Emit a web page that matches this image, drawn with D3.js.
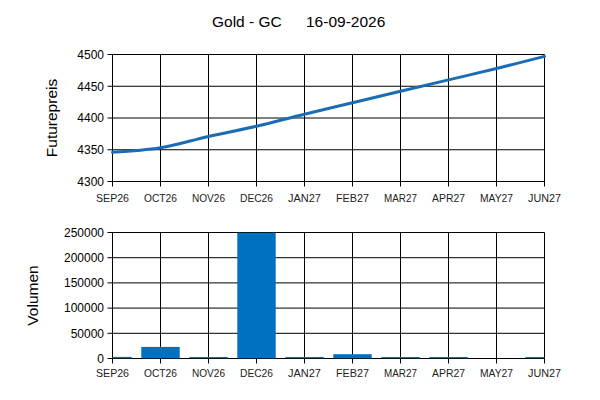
<!DOCTYPE html>
<html>
<head>
<meta charset="utf-8">
<script src="https://cdn.jsdelivr.net/npm/d3@7"></script>
<style>
  html, body { margin: 0; padding: 0; background: #fff; }
  svg { display: block; font-family: Arial, "Liberation Sans", sans-serif; }
</style>
</head>
<body>
<svg id="chart" width="600" height="400"></svg>
<script>
const months = ["SEP26","OCT26","NOV26","DEC26","JAN27","FEB27","MAR27","APR27","MAY27","JUN27"];
const prices = [4346, 4353, 4371, 4387, 4406, 4424, 4442, 4460, 4478, 4497];
const volumes = [3200, 23000, 3000, 250000, 3000, 8500, 3000, 3000, 0, 3000];
const priceTicks = [4300, 4350, 4400, 4450, 4500];
const volumeTicks = [0, 50000, 100000, 150000, 200000, 250000];
const titleLeft = "Gold - GC";
const titleRight = "16-09-2026";
const priceLabel = "Futurepreis";
const volumeLabel = "Volumen";

const svg = d3.select("#chart");
const left = 112.5, right = 544.5;
const lineColor = "#1a6db5", barColor = "#0070c0";

const x = d3.scalePoint().domain(months).range([left, right]);
const step = x.step();

// Title
svg.append("text").attr("x", 212).attr("y", 27).attr("font-size", 15.5).attr("fill", "#000").text(titleLeft);
svg.append("text").attr("x", 306).attr("y", 27).attr("font-size", 15.5).attr("fill", "#000").text(titleRight);

function panel(top, bottom, domain, ticks, fmt, xLabelOffset, label, labelX) {
  const y = d3.scaleLinear().domain(domain).range([bottom, top]);
  const g = svg.append("g");
  g.selectAll("line.hg").data(ticks).join("line")
    .attr("x1", left - 5).attr("x2", right)
    .attr("y1", d => y(d)).attr("y2", d => y(d))
    .attr("stroke", "#000").attr("stroke-width", 1);
  g.selectAll("line.vg").data(months).join("line")
    .attr("x1", d => x(d)).attr("x2", d => x(d))
    .attr("y1", top).attr("y2", bottom + 5)
    .attr("stroke", "#000").attr("stroke-width", 1);
  g.selectAll("text.yt").data(ticks).join("text")
    .attr("x", left - 8.5).attr("y", d => y(d)).attr("dy", "0.36em")
    .attr("text-anchor", "end").attr("font-size", 12).attr("fill", "#000")
    .text(d => fmt(d));
  g.selectAll("text.xt").data(months).join("text")
    .attr("x", d => x(d)).attr("y", bottom + xLabelOffset)
    .attr("text-anchor", "middle").attr("font-size", 11).attr("fill", "#222")
    .attr("textLength", 33).attr("lengthAdjust", "spacingAndGlyphs")
    .text(d => d);
  svg.append("text")
    .attr("transform", `translate(${labelX},${(top + bottom) / 2}) rotate(-90)`)
    .attr("text-anchor", "middle").attr("font-size", 15.5).attr("fill", "#000")
    .text(label);
  return y;
}

// Top panel: price line
const yP = panel(54.5, 181.5, [4300, 4500], priceTicks, d3.format("d"), 20, priceLabel, 57);
const line = d3.line().x((d, i) => x(months[i])).y(d => yP(d)).curve(d3.curveCatmullRom.alpha(0.5));
svg.append("path").datum(prices).attr("d", line)
  .attr("fill", "none").attr("stroke", lineColor).attr("stroke-width", 3)
  .attr("stroke-linecap", "round");

// Bottom panel: volume bars
const vTop = 232.5, vBottom = 358.5;
svg.append("clipPath").attr("id", "clipV").append("rect")
  .attr("x", left).attr("y", vTop).attr("width", right - left).attr("height", vBottom - vTop);
const yV = panel(vTop, vBottom, [0, 250000], volumeTicks, d3.format("d"), 18.5, volumeLabel, 38);
const bw = step * 0.8;
svg.append("g").attr("clip-path", "url(#clipV)")
  .selectAll("rect").data(volumes).join("rect")
  .attr("x", (d, i) => x(months[i]) - bw / 2)
  .attr("width", bw)
  .attr("y", d => yV(d))
  .attr("height", d => vBottom - yV(d))
  .attr("fill", barColor);
</script>
</body>
</html>
